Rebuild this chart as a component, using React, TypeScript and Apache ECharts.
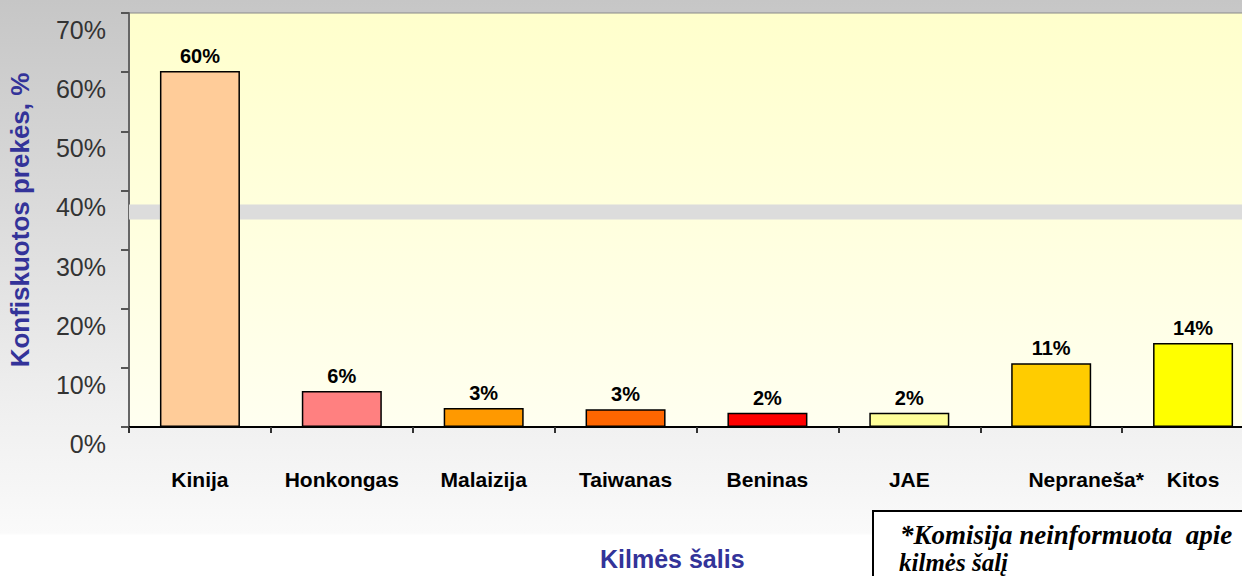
import React, { useEffect, useRef } from "react";
import * as echarts from "echarts";

const categories = ["Kinija", "Honkongas", "Malaizija", "Taiwanas", "Beninas", "JAE", "Nepraneša*", "Kitos"];
const shares = [60.2, 6.1, 3.2, 3.0, 2.4, 2.4, 10.8, 14.2];
const shareLabels = ["60%", "6%", "3%", "3%", "2%", "2%", "11%", "14%"];
const barColors = ["#FFCC99", "#FF8080", "#FF9900", "#FF6600", "#FF0000", "#FFFF99", "#FFCC00", "#FFFF00"];
const yMin = 0;
const yMax = 70;
const yStep = 10;
const bandRange = [35.1, 37.6];
const yTitle = "Konfiskuotos prekės, %";
const xTitle = "Kilmės šalis";
const noteLines = ["*Komisija neinformuota  apie", "kilmės šalį"];

export default function App() {
  const ref = useRef<HTMLDivElement>(null);

  useEffect(() => {
    if (!ref.current) return;
    const chart = echarts.init(ref.current, null, { renderer: "svg" });

    const xData = categories.map((c, i) =>
      i === 6 ? { value: c, textStyle: { padding: [0, 0, 0, 70] } } : c
    );

    const option = {
      animation: false,
      backgroundColor: new echarts.graphic.LinearGradient(0, 0, 0, 1, [
        { offset: 0, color: "#c6c6c6" },
        { offset: 0.35, color: "#dadada" },
        { offset: 0.7, color: "#efefef" },
        { offset: 0.85, color: "#f6f6f6" },
        { offset: 0.925, color: "#fafafa" },
        { offset: 0.93, color: "#ffffff" },
        { offset: 1, color: "#ffffff" },
      ]),
      grid: {
        left: 129,
        top: 13,
        width: 1135,
        height: 414,
        outerBoundsMode: "none",
        containLabel: false,
        show: true,
        borderColor: "#8a8a8a",
        borderWidth: 1,
        backgroundColor: new echarts.graphic.LinearGradient(0, 0, 0, 1, [
          { offset: 0, color: "#FFFFCC" },
          { offset: 1, color: "#FFFFF0" },
        ]),
      },
      xAxis: {
        type: "category",
        data: xData,
        axisLine: { show: true, lineStyle: { color: "#000", width: 2 } },
        axisTick: { show: true, length: 6, lineStyle: { color: "#333", width: 2 } },
        axisLabel: {
          interval: 0,
          margin: 42,
          color: "#000",
          fontSize: 21,
          fontWeight: "bold",
          fontFamily: "Liberation Sans, Arial, sans-serif",
        },
        splitLine: { show: false },
      },
      yAxis: {
        type: "value",
        min: yMin,
        max: yMax,
        interval: yStep,
        name: yTitle,
        nameLocation: "middle",
        nameRotate: 90,
        nameGap: 96,
        nameTextStyle: {
          color: "#333399",
          fontSize: 26,
          fontWeight: "bold",
          fontFamily: "Liberation Sans, Arial, sans-serif",
        },
        axisLine: { show: true, lineStyle: { color: "#666", width: 2 } },
        axisTick: { show: true, length: 8, lineStyle: { color: "#555", width: 2 } },
        axisLabel: {
          formatter: "{value}%",
          margin: 23,
          color: "#333",
          fontSize: 25,
          fontFamily: "Liberation Sans, Arial, sans-serif",
          verticalAlign: "top",
          lineHeight: 34,
        },
        splitLine: { show: false },
      },
      series: [
        {
          type: "bar",
          barWidth: 80,
          data: shares.map((v, i) => ({
            value: v,
            itemStyle: { color: barColors[i] },
          })),
          itemStyle: { borderColor: "#000", borderWidth: 1.5 },
          label: {
            show: true,
            position: "top",
            distance: 5,
            color: "#000",
            fontSize: 20,
            fontWeight: "bold",
            fontFamily: "Liberation Sans, Arial, sans-serif",
            formatter: (p: any) => shareLabels[p.dataIndex],
          },
          markArea: {
            silent: true,
            itemStyle: { color: "#dcdcdc", opacity: 1 },
            label: { show: false },
            data: [[{ yAxis: bandRange[0] }, { yAxis: bandRange[1] }]],
          },
          z: 2,
        },
      ],
      graphic: [
        {
          type: "text",
          left: 680 - 80,
          top: 546,
          style: {
            text: xTitle,
            fill: "#333399",
            font: "bold 25px 'Liberation Sans', Arial, sans-serif",
            width: 160,
            align: "center",
          },
        },
        {
          type: "rect",
          shape: { x: 873, y: 511, width: 420, height: 120 },
          style: { fill: "#ffffff", stroke: "#000", lineWidth: 2 },
        },
        {
          type: "text",
          x: 900,
          y: 535,
          style: {
            text: noteLines[0],
            fill: "#000",
            font: "italic bold 27px 'Liberation Serif', 'Times New Roman', serif",
            verticalAlign: "middle",
          },
        },
        {
          type: "text",
          x: 899,
          y: 562,
          style: {
            text: noteLines[1],
            fill: "#000",
            font: "italic bold 25px 'Liberation Serif', 'Times New Roman', serif",
            verticalAlign: "middle",
          },
        },
      ],
    };

    chart.setOption(option as any);
    return () => chart.dispose();
  }, []);

  return (
    <div
      ref={ref}
      style={{ position: "fixed", left: 0, top: 0, width: 1242, height: 576 }}
    />
  );
}
